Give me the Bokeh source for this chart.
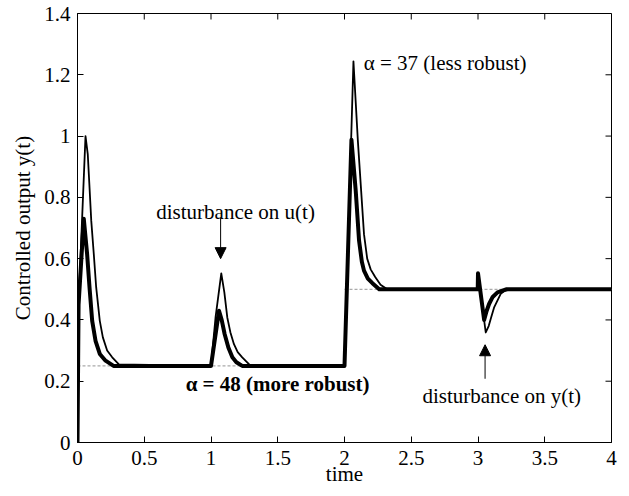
import math
from bokeh.plotting import figure
from bokeh.models import FixedTicker, Label, Arrow, NormalHead, Range1d
from bokeh.core.properties import value
from bokeh.embed import file_html
from bokeh.resources import INLINE

# alpha = 37 (less robust) response
t_thin = [0, 0.008, 0.06, 0.077, 0.09, 0.103, 0.122, 0.14, 0.167, 0.19, 0.222, 0.26, 0.31,
          1.0, 1.034, 1.077, 1.10, 1.122, 1.145, 1.172, 1.20, 1.234, 1.297,
          2.0, 2.067, 2.10, 2.146, 2.17, 2.196, 2.23, 2.27, 2.32,
          2.998, 3.0, 3.058, 3.08, 3.10, 3.12, 3.17, 3.20, 3.246, 4.0]
y_thin = [0, 0.45, 1.0, 0.94, 0.833, 0.724, 0.615, 0.506, 0.397, 0.343, 0.30, 0.278, 0.255,
          0.25, 0.408, 0.552, 0.49, 0.408, 0.36, 0.321, 0.295, 0.278, 0.25,
          0.25, 1.244, 0.985, 0.68, 0.60, 0.565, 0.54, 0.515, 0.5,
          0.5, 0.552, 0.359, 0.38, 0.41, 0.44, 0.485, 0.495, 0.5, 0.5]

# alpha = 48 (more robust) response
t_thick = [0, 0.008, 0.047, 0.06, 0.072, 0.09, 0.11, 0.135, 0.167, 0.21, 0.27,
           1.0, 1.06, 1.08, 1.102, 1.13, 1.16, 1.19, 1.234,
           2.0, 2.052, 2.084, 2.109, 2.13, 2.146, 2.175, 2.209, 2.26,
           2.998, 3.0, 3.046, 3.065, 3.083, 3.11, 3.146, 3.21, 4.0]
y_thick = [0, 0.45, 0.73, 0.67, 0.615, 0.506, 0.397, 0.332, 0.289, 0.267, 0.25,
           0.25, 0.43, 0.40, 0.354, 0.31, 0.278, 0.262, 0.25,
           0.25, 0.988, 0.822, 0.659, 0.59, 0.561, 0.535, 0.52, 0.5,
           0.5, 0.552, 0.40, 0.43, 0.452, 0.475, 0.49, 0.5, 0.5]

# setpoint segments
sp_t0 = [0, 2]
sp_t1 = [2, 4]
sp_y = [0.25, 0.5]

x_ticks = [0, 0.5, 1, 1.5, 2, 2.5, 3, 3.5, 4]
y_ticks = [0, 0.2, 0.4, 0.6, 0.8, 1.0, 1.2, 1.4]
X_MAX, Y_MAX = 4, 1.4

FONT = "Liberation Serif"
FS = "21px"

p = figure(frame_width=534, frame_height=429, output_backend="svg",
           toolbar_location=None, x_range=Range1d(0, X_MAX), y_range=Range1d(0, Y_MAX),
           min_border_left=77, min_border_right=10, min_border_top=13, min_border_bottom=0)
p.grid.visible = False
p.outline_line_color = "black"
p.outline_line_width = 1
p.background_fill_color = "white"
p.border_fill_color = "white"

for ax in (p.xaxis[0], p.yaxis[0]):
    ax.major_tick_in = 6
    ax.major_tick_out = 0
    ax.minor_tick_line_color = None
    ax.axis_line_color = "black"
    ax.major_tick_line_color = "black"
    ax.major_label_text_font = FONT
    ax.major_label_text_font_size = FS
    ax.major_label_text_color = "black"
    ax.axis_label_text_font = FONT
    ax.axis_label_text_font_size = FS
    ax.axis_label_text_font_style = "normal"
    ax.axis_label_text_color = "black"

p.xaxis.ticker = FixedTicker(ticks=x_ticks)
p.yaxis.ticker = FixedTicker(ticks=y_ticks)
p.xaxis.major_label_overrides = {0: "0", 1: "1", 2: "2", 3: "3", 4: "4"}
p.yaxis.major_label_overrides = {0: "0", 1: "1"}
p.xaxis.axis_label = "time"
p.yaxis.axis_label = "Controlled output y(t)"
p.xaxis.major_label_standoff = 8
p.xaxis.axis_label_standoff = -6
p.yaxis.major_label_standoff = 7
p.yaxis.axis_label_standoff = 6

# inward ticks on the top and right edges of the box
p.ray(x=x_ticks, y=[Y_MAX] * len(x_ticks), length=6, length_units="screen",
      angle=-math.pi / 2, line_color="black", line_width=1)
p.ray(x=[X_MAX] * len(y_ticks), y=y_ticks, length=6, length_units="screen",
      angle=math.pi, line_color="black", line_width=1)

p.segment(x0=sp_t0, x1=sp_t1, y0=sp_y, y1=sp_y, line_color="#aaaaaa",
          line_width=1.2, line_dash="3 2")
p.line(t_thin, y_thin, line_color="black", line_width=1.8, line_join="round")
p.line(t_thick, y_thick, line_color="black", line_width=4, line_join="round")

def lab(x, y, text, bold=False, align="left"):
    p.add_layout(Label(x=x, y=y, text=text, text_font=FONT, text_font_size=FS,
                       text_font_style="bold" if bold else "normal",
                       text_align=align, text_baseline="middle", text_color="black"))

lab(0.59, 0.753, "disturbance on u(t)")
lab(2.144, 1.237, "\u03b1 = 37 (less robust)")
lab(0.81, 0.192, "\u03b1 = 48 (more robust)", bold=True)
lab(2.584, 0.153, "disturbance on y(t)")

p.add_layout(Arrow(x_start=1.072, y_start=0.734, x_end=1.072, y_end=0.60,
                   line_width=1, line_color="black",
                   end=NormalHead(size=11, fill_color="black", line_color="black")))
p.add_layout(Arrow(x_start=3.053, y_start=0.208, x_end=3.053, y_end=0.319,
                   line_width=1, line_color="black",
                   end=NormalHead(size=11, fill_color="black", line_color="black")))

open("out.html", "w").write(file_html(p, INLINE))
